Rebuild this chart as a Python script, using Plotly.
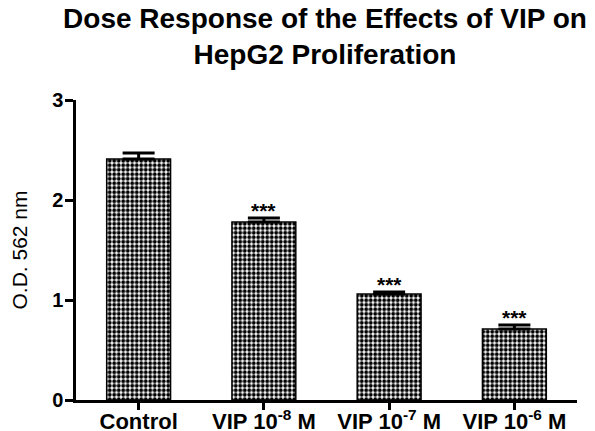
import plotly.graph_objects as go

categories = ["Control", "VIP 10<sup>-8</sup> M", "VIP 10<sup>-7</sup> M", "VIP 10<sup>-6</sup> M"]
values = [2.41, 1.78, 1.06, 0.71]
errors = [0.06, 0.04, 0.02, 0.04]
signif = ["", "***", "***", "***"]
y_ticks = [0, 1, 2, 3]

FONT = "Liberation Sans"

fig = go.Figure()
fig.add_trace(go.Bar(
    x=list(range(len(categories))), y=values, width=0.51,
    marker=dict(color="white", line=dict(color="black", width=1.5),
                pattern=dict(shape=".", fgcolor="black", bgcolor="white", size=4.5, solidity=0.6)),
    error_y=dict(type="data", array=errors, arrayminus=[0]*4, symmetric=False,
                 color="black", thickness=3, width=16),
))
for i, (v, e, s) in enumerate(zip(values, errors, signif)):
    if s:
        fig.add_annotation(x=i, y=v + e, text="<b>" + s + "</b>", showarrow=False, yanchor="bottom",
                           yshift=-6, font=dict(size=21, color="black", family=FONT))

fig.update_layout(
    template="none",
    width=587, height=423,
    margin=dict(l=68, r=18, t=92, b=31),
    paper_bgcolor="white", plot_bgcolor="white",
    showlegend=False,
    font=dict(family=FONT, color="black"),
    title=dict(text="<b>Dose Response of the Effects of VIP on<br>HepG2 Proliferation</b>",
               x=0.54, xanchor="center", y=0.953, yanchor="middle",
               font=dict(size=28, family=FONT, color="black")),
    xaxis=dict(range=[-0.5, 3.5], showline=True, linecolor="black", linewidth=2.5,
               tickvals=list(range(len(categories))), ticktext=["<b>" + c + "</b>" for c in categories],
               ticks="outside", ticklen=7, tickwidth=2.5, tickcolor="black", automargin=False,
               ticklabelstandoff=-7,
               tickfont=dict(size=22, family=FONT, color="black"),
               showgrid=False, zeroline=False),
    yaxis=dict(range=[0, 3], tickvals=y_ticks, ticktext=["<b>%d</b>" % t for t in y_ticks],
               showline=True, linecolor="black", linewidth=2.5, automargin=False,
               ticks="outside", ticklen=8, tickwidth=2.5, tickcolor="black",
               ticklabelstandoff=-2,
               tickfont=dict(size=20, family=FONT, color="black"),
               title=dict(text="O.D. 562 nm", font=dict(size=21, family=FONT, color="black"), standoff=33),
               showgrid=False, zeroline=False),
)
fig.write_html("out.html")
